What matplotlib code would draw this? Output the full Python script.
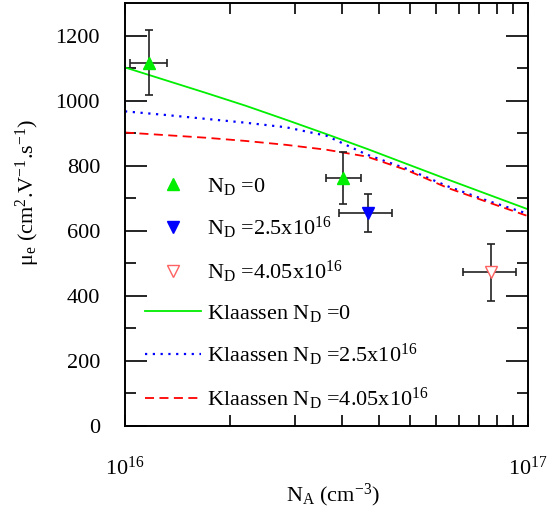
import numpy as np
import matplotlib
matplotlib.use('Agg')
import matplotlib.pyplot as plt
from matplotlib.ticker import FixedLocator, NullFormatter

plt.rcParams['font.family'] = ['Liberation Serif', 'DejaVu Serif']
plt.rcParams['mathtext.fontset'] = 'custom'
plt.rcParams['mathtext.rm'] = 'Liberation Serif'
plt.rcParams['mathtext.it'] = 'Liberation Serif:italic'
plt.rcParams['font.size'] = 16

# measured points
na_green = [1.15e16, 3.47e16]
mu_green = [1117, 762]
xerr_green = [[0.12e16, 0.32e16], [0.12e16, 0.38e16]]
yerr_green = [100, 80]

na_blue = [4.01e16]
mu_blue = [655]
xerr_blue = [[0.61e16], [0.59e16]]
yerr_blue = [58]

na_red = [8.09e16]
mu_red = [472]
xerr_red = [[1.19e16], [1.24e16]]
yerr_red = [87]

# Klaassen model curves (log10 of NA - 16)
log_frac = [0, 0.1, 0.2, 0.3, 0.4, 0.5, 0.6, 0.7, 0.8, 0.9, 1.0]
kl_0 = [1102, 1063, 1024, 984, 941, 897, 852, 805, 758, 712, 666]
kl_25 = [967, 956, 944, 932, 918, 892, 834, 790, 737, 692, 652]
kl_405 = [902, 894, 886, 876, 864, 849, 828, 786, 732, 688, 645]

na_curve = 10 ** (16 + np.array(log_frac))

fig = plt.figure(figsize=(5.6, 5.16), dpi=100)
ax = fig.add_axes([125/560, 90/516, 403/560, 423/516])

l1, = ax.plot(na_curve, kl_0, color='#00ee00', lw=1.3, label=r'Klaassen $\mathregular{N_D}$ =0')
l2, = ax.plot(na_curve, kl_25, color='#0000ff', lw=1.6, ls=(0, (1, 2.5)),
              label=r'Klaassen $\mathregular{N_D}$ =2.5x10$\mathregular{^{16}}$')
l3, = ax.plot(na_curve, kl_405, color='#ff0000', lw=1.3, ls=(0, (5, 3)),
              label=r'Klaassen $\mathregular{N_D}$ =4.05x10$\mathregular{^{16}}$')

eb = dict(fmt='none', ecolor='#222222', elinewidth=1.2, capsize=3, capthick=1.2)
ax.errorbar(na_green, mu_green, xerr=xerr_green, yerr=yerr_green, **eb)
ax.errorbar(na_blue, mu_blue, xerr=xerr_blue, yerr=yerr_blue, **eb)
ax.errorbar(na_red, mu_red, xerr=xerr_red, yerr=yerr_red, **eb)

m1, = ax.plot(na_green, mu_green, '^', color='#00ee00', ms=8, ls='none',
              label=r'$\mathregular{N_D}$ =0')
m2, = ax.plot(na_blue, mu_blue, 'v', color='#0000ff', ms=8, ls='none',
              label=r'$\mathregular{N_D}$ =2.5x10$\mathregular{^{16}}$')
m3, = ax.plot(na_red, mu_red, 'v', mfc='white', mec='#ff6060', mew=1, ms=8, ls='none',
              label=r'$\mathregular{N_D}$ =4.05x10$\mathregular{^{16}}$')

ax.set_xscale('log')
ax.set_xlim(1e16, 1e17)
ax.set_ylim(0, 1300)

ax.set_yticks(range(0, 1201, 200))
ax.set_yticks(range(100, 1300, 200), minor=True)
ax.xaxis.set_major_locator(FixedLocator([1e16, 1e17]))
ax.xaxis.set_minor_locator(FixedLocator([1e16 + k * 9e16 / 11 for k in range(1, 11)]))
ax.xaxis.set_minor_formatter(NullFormatter())

ax.tick_params(which='both', direction='in', top=True, right=True, width=1.2)
ax.tick_params(axis='y', which='major', length=16, pad=18)
ax.tick_params(axis='y', which='minor', length=8)
ax.tick_params(axis='x', which='major', length=8, pad=22)
ax.tick_params(axis='x', which='minor', length=8)
for s in ax.spines.values():
    s.set_linewidth(1.4)

ax.set_xlabel(r'$\mathregular{N_A}$ (cm$\mathregular{^{-3}}$)')
ax.xaxis.set_label_coords(0.516, -0.132)
ax.set_ylabel(r'μ$\mathregular{_e}$ (cm$\mathregular{^2}$.V$\mathregular{^{-1}}$.s$\mathregular{^{-1}}$)')
ax.yaxis.set_label_coords(-0.206, 0.553)

ax.legend(handles=[m1, m2, m3, l1, l2, l3], loc='upper left',
          bbox_to_anchor=(20/403, 1 - 173/423), frameon=False, borderpad=0,
          borderaxespad=0, handlelength=2.5, handletextpad=0.3, labelspacing=0.8,
          fontsize=16)

fig.savefig('out.png', dpi=100)
